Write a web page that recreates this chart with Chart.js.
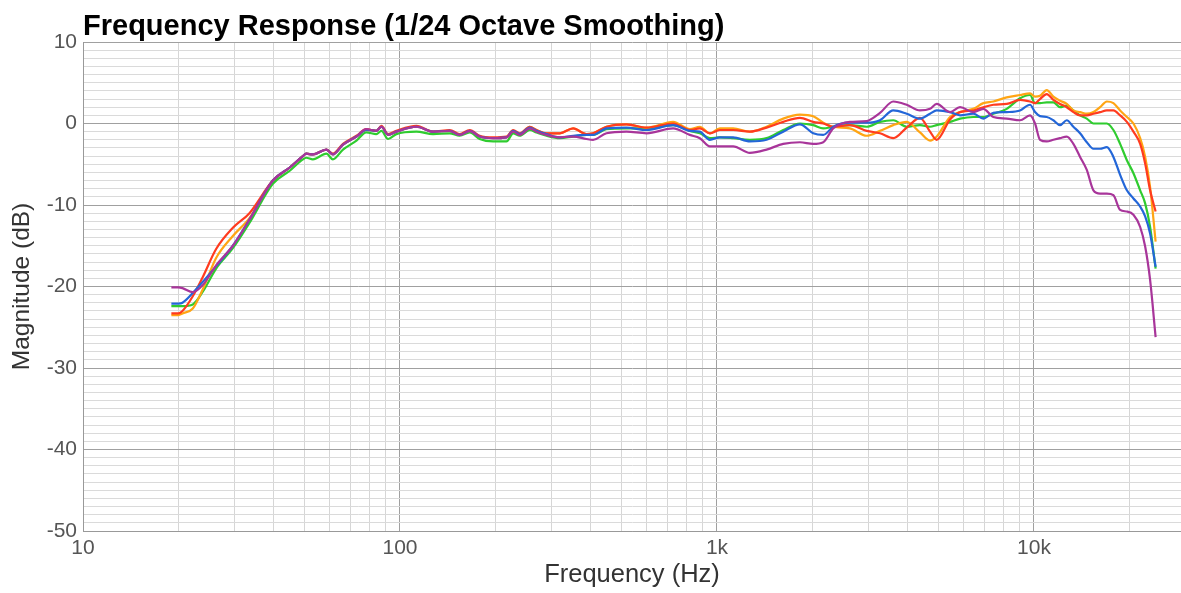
<!DOCTYPE html>
<html><head><meta charset="utf-8">
<script src="https://cdn.jsdelivr.net/npm/chart.js@4.4.1/dist/chart.umd.min.js"></script>
<style>html,body{margin:0;padding:0;background:#fff;overflow:hidden}#wrap{width:1181px;height:593px}</style>
</head><body><div id="wrap"><canvas id="c" width="1181" height="593"></canvas></div>
<script>
const titleText = 'Frequency Response (1/24 Octave Smoothing)';
const xTitleText = 'Frequency (Hz)';
const yTitleText = 'Magnitude (dB)';
const xGridValues = [10,20,30,40,50,60,70,80,90,100,200,300,400,500,600,700,800,900,1000,2000,3000,4000,5000,6000,7000,8000,9000,10000,20000];
const xTickLabels = {10:'10',100:'100',1000:'1k',10000:'10k'};
const yMin = -50, yMax = 10;

const freqs = [19,20,20.6,22.2,23.9,26.3,29.7,33.5,39.7,44.9,
  49.4,50.6,53.1,58.6,61.4,66.1,72.9,78.3,84.2,87.4,
  91.7,97.4,112.7,127.2,143.5,154.3,166,178.4,196.7,216.8,
  227.5,238.7,256.7,269.5,289.8,319.3,351.7,387.6,406.6,448.2,
  518.3,599.6,727.2,821.1,883.1,949.6,1021,1125,1270,1434,
  1618,1827,2012,2164,2327,2627,2967,3268,3599,3967,
  4370,4700,4935,5435,5846,6437,6923,7446,8206,9040,
  9721,10080,10450,10975,11515,12085,12690,13315,13980,14680,
  15400,16170,16980,17810,18700,19640,20600,21630,22430,23250,24200];

const red = [-23.3,-23.3,-23.0,-21.2,-18.8,-15.4,-12.8,-11.0,-7.0,-5.4,
  -4.0,-3.7,-3.8,-3.2,-3.7,-2.5,-1.5,-0.7,-0.9,-0.3,
  -1.3,-0.9,-0.3,-1.0,-0.8,-1.3,-0.8,-1.5,-1.7,-1.6,
  -0.8,-1.2,-0.4,-0.8,-1.2,-1.2,-0.6,-1.3,-1.2,-0.4,
  -0.1,-0.5,0.0,-0.8,-0.6,-1.2,-0.8,-0.8,-1.0,-0.5,
  0.2,0.7,0.2,0.0,-0.4,-0.2,-0.9,-1.2,-1.8,-0.5,
  0.7,-1.0,-2.0,0.5,1.4,1.6,2.0,2.3,2.4,2.9,
  2.7,2.5,3.0,3.6,2.9,2.4,2.0,1.4,1.0,1.0,
  1.2,1.4,1.6,1.6,1.0,0.2,-1.0,-2.5,-4.9,-8.2,-10.8];

const orange = [-23.5,-23.5,-23.3,-22.7,-20.3,-16.5,-13.8,-11.6,-7.0,-5.4,
  -4.0,-3.7,-3.8,-3.2,-3.8,-2.6,-1.6,-0.8,-0.9,-0.4,
  -1.4,-1.0,-0.4,-1.0,-0.9,-1.4,-0.9,-1.6,-1.8,-1.7,
  -0.9,-1.3,-0.4,-0.8,-1.2,-1.2,-0.6,-1.3,-1.2,-0.4,
  -0.1,-0.5,0.2,-0.7,-0.4,-1.2,-0.6,-0.6,-1.0,-0.4,
  0.6,1.1,0.9,0.1,-0.4,-0.6,-1.5,-0.9,-0.2,0.2,
  -1.1,-2.1,-1.6,0.8,1.4,1.8,2.5,2.7,3.2,3.5,
  3.7,3.3,3.4,4.1,3.3,2.8,2.4,1.6,1.4,1.2,
  1.4,2.0,2.7,2.5,1.6,0.8,0.0,-1.8,-4.1,-7.8,-14.5];

const green = [-22.4,-22.4,-22.4,-22.2,-20.6,-17.8,-15.3,-12.2,-7.4,-5.8,
  -4.4,-4.2,-4.4,-3.7,-4.4,-3.2,-2.1,-1.1,-1.3,-0.9,
  -1.9,-1.3,-1.0,-1.3,-1.2,-1.5,-1.1,-1.9,-2.2,-2.2,
  -1.2,-1.5,-0.8,-1.1,-1.5,-1.8,-1.6,-1.4,-1.4,-0.7,
  -0.6,-0.6,-0.2,-0.9,-1.2,-1.8,-1.7,-1.8,-2.0,-1.8,
  -0.8,0.0,-0.2,-0.6,-0.4,-0.2,-0.4,0.2,0.4,-0.4,
  -0.2,-0.4,-0.2,0.2,0.6,0.8,0.8,1.2,1.8,3.1,
  3.5,2.5,2.5,2.6,2.6,2.0,2.2,1.6,1.0,0.6,
  0.0,0.0,0.0,-0.8,-2.5,-4.5,-6.1,-8.2,-9.8,-12.7,-17.8];

const blue = [-22.1,-22.1,-22.0,-20.8,-19.4,-17.5,-15.0,-11.8,-7.0,-5.4,
  -4.0,-3.7,-3.8,-3.2,-3.8,-2.6,-1.6,-0.8,-0.9,-0.4,
  -1.4,-1.0,-0.4,-1.0,-0.9,-1.4,-0.9,-1.6,-1.8,-1.7,
  -0.9,-1.3,-0.5,-0.9,-1.3,-1.7,-1.5,-1.4,-1.4,-0.6,
  -0.5,-0.8,-0.2,-0.9,-1.0,-2.0,-1.7,-1.7,-2.2,-2.0,
  -1.0,-0.1,-1.2,-1.4,-0.4,0.1,0.1,0.4,1.6,1.2,
  0.6,1.2,1.6,1.4,1.0,1.2,0.6,1.3,1.4,1.6,
  2.3,1.4,0.9,0.8,0.4,-0.2,0.4,-0.4,-1.2,-2.3,
  -3.1,-3.1,-2.9,-4.1,-6.3,-8.2,-9.2,-10.2,-11.4,-13.5,-17.6];

const purple = [-20.1,-20.1,-20.2,-20.7,-19.8,-17.4,-15.0,-11.8,-7.0,-5.4,
  -4.0,-3.7,-3.8,-3.2,-3.8,-2.6,-1.6,-0.7,-0.9,-0.4,
  -1.4,-1.0,-0.4,-1.0,-0.9,-1.4,-0.9,-1.6,-1.8,-1.7,
  -1.0,-1.4,-0.6,-1.0,-1.4,-1.7,-1.6,-1.9,-2.0,-1.2,
  -1.0,-1.2,-0.6,-1.4,-1.8,-2.8,-2.8,-2.8,-3.6,-3.2,
  -2.5,-2.3,-2.5,-2.3,-0.6,0.2,0.3,1.3,2.7,2.3,
  1.6,1.8,2.4,1.4,2.0,1.4,1.8,0.8,0.6,0.4,
  1.0,0.0,-2.0,-2.2,-2.0,-1.8,-1.6,-2.5,-4.1,-5.7,
  -8.2,-8.6,-8.6,-8.8,-10.6,-10.8,-11.2,-12.7,-15.1,-19.2,-26.2];

const seriesList = [
  {name:'purple', values:purple, color:'#a8359a'},
  {name:'blue', values:blue, color:'#2366d8'},
  {name:'red', values:red, color:'#ff3b1f'},
  {name:'orange', values:orange, color:'#ffa514'},
  {name:'green', values:green, color:'#2fcc2f'}
];

const FONT = "'Liberation Sans', Arial, Helvetica, sans-serif";
const majorX = v => Math.abs(Math.log10(v) - Math.round(Math.log10(v))) < 1e-9;

const titlePlugin = {
  id: 'leftTitle',
  afterDraw(chart) {
    const ctx = chart.ctx;
    ctx.save();
    ctx.font = 'bold 29px ' + FONT;
    ctx.fillStyle = '#000';
    ctx.textBaseline = 'alphabetic';
    ctx.textAlign = 'left';
    ctx.fillText(titleText, chart.chartArea.left, 35);
    ctx.restore();
  }
};

new Chart(document.getElementById('c'), {
  type: 'line',
  data: {
    datasets: seriesList.map(s => ({
      label: s.name,
      data: freqs.map((f, i) => ({x: f, y: s.values[i]})),
      borderColor: s.color,
      backgroundColor: s.color,
      borderWidth: 2.2,
      pointRadius: 0,
      fill: false,
      cubicInterpolationMode: 'monotone'
    }))
  },
  options: {
    responsive: false,
    animation: false,
    devicePixelRatio: 1,
    layout: {padding: {top: 42, right: 0, left: 0, bottom: 0}},
    plugins: {legend: {display: false}, tooltip: {enabled: false}, title: {display: false}},
    scales: {
      x: {
        type: 'logarithmic',
        min: 10,
        max: 29100,
        afterBuildTicks: s => { s.ticks = xGridValues.map(v => ({value: v})); },
        afterFit: s => { s.height = 62; },
        ticks: {
          autoSkip: false, maxRotation: 0, minRotation: 0, padding: 5,
          color: '#555', font: {family: FONT, size: 21},
          callback: v => xTickLabels[v] || ''
        },
        grid: {
          drawTicks: false,
          color: c => (c.tick && majorX(c.tick.value)) ? '#a0a0a0' : '#d6d6d6',
          lineWidth: 1
        },
        border: {display: true, color: '#999', width: 1},
        title: {display: true, text: xTitleText, color: '#333', font: {family: FONT, size: 25.5}, padding: {top: 0, bottom: 3}}
      },
      y: {
        type: 'linear',
        min: yMin,
        max: yMax,
        afterFit: s => { s.width = 83; },
        ticks: {
          stepSize: 1, autoSkip: false, padding: 6,
          color: '#555', font: {family: FONT, size: 21},
          callback: v => (v % 10 === 0 ? String(v) : '')
        },
        grid: {
          drawTicks: false,
          color: c => (c.tick && c.tick.value % 10 === 0) ? '#a0a0a0' : '#dadada',
          lineWidth: 1
        },
        border: {display: true, color: '#999', width: 1},
        title: {display: true, text: yTitleText, color: '#333', font: {family: FONT, size: 24.5}, padding: {top: 8, bottom: 0}}
      }
    }
  },
  plugins: [titlePlugin]
});
</script></body></html>
